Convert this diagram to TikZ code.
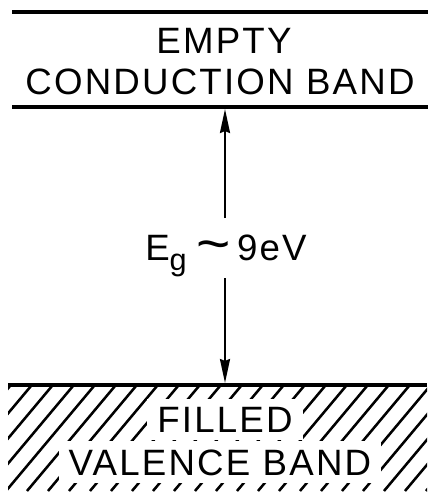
\documentclass[tikz,border=0pt]{standalone}
\usepackage{fontspec}
\setmainfont{Liberation Sans}[LetterSpace=6]
\usetikzlibrary{arrows.meta}

\begin{document}
\begin{tikzpicture}[x=0.75pt,y=-0.75pt,
  bandline/.style={line width=2.6pt},
  hatchline/.style={line width=1.9pt},
  bandtext/.style={font=\fontsize{27.5pt}{30pt}\selectfont, anchor=base, inner sep=0pt},
  clearbox/.style={bandtext, fill=white, inner xsep=7.5pt, inner ysep=6pt},
  gaparrow/.style={line width=1.7pt, -{Stealth[length=18pt,width=7.5pt,inset=1.5pt]}}]
\useasboundingbox (0,0) rectangle (433,494);

% band edges
\coordinate (cbL) at (12,12);   \coordinate (cbR) at (428,12);
\coordinate (ceL) at (12,107);  \coordinate (ceR) at (428,107);
\coordinate (vbL) at (8,385);   \coordinate (vbR) at (427,385);
\draw[bandline] (cbL) -- (cbR);
\draw[bandline] (ceL) -- (ceR);

% hatched valence band
\begin{scope}
  \clip (8,386) rectangle (427,491);
  \foreach \i in {-120,-99,...,440}
    \draw[hatchline] (\i,491) -- ++(88,-105);
\end{scope}
\draw[bandline] (vbL) -- (vbR);

% band labels
\node[bandtext] (empty) at (224,53) {EMPTY};
\node[bandtext] (cond) at (220,94) {CONDUCTION BAND};
\node[clearbox] (filled) at (225,432) {FILLED};
\node[clearbox] (valence) at (220,475) {VALENCE BAND};

% gap label and arrows
\node[bandtext, anchor=base west] (gap) at (145,260)
  {E\raisebox{-8pt}{\fontsize{23pt}{24pt}\selectfont g}\hspace{7pt}\raisebox{-2pt}{\scalebox{1.6}[1.5]{\textasciitilde}}\hspace{5pt}9eV};
\coordinate (gapTop) at (225,218);
\coordinate (gapBot) at (225,278);
\coordinate (ctip) at (225,109);
\coordinate (vtip) at (225,383);
\draw[gaparrow] (gapTop) -- (ctip);
\draw[gaparrow] (gapBot) -- (vtip);
\end{tikzpicture}
\end{document}
